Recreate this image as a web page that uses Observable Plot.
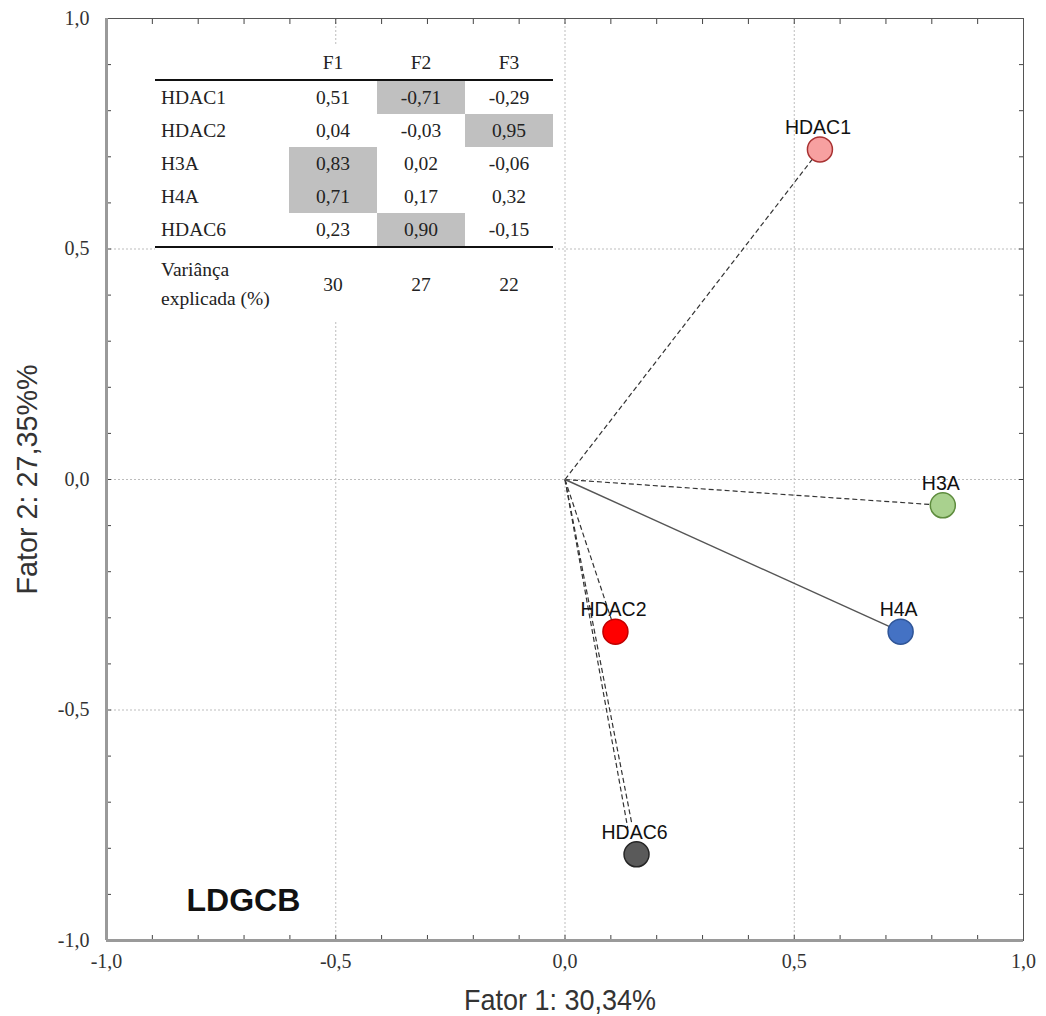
<!DOCTYPE html>
<html>
<head>
<meta charset="utf-8">
<script src="https://cdn.jsdelivr.net/npm/d3@7"></script>
<script src="https://cdn.jsdelivr.net/npm/@observablehq/plot@0.6"></script>
<style>
  html, body { margin: 0; padding: 0; background: white; }
  #wrap { position: relative; width: 1046px; height: 1016px; }
  #wrap svg { position: absolute; left: 0; top: 0; }
  #tbl { position: absolute; left: 155px; top: 46px; width: 400px; background: white; }
  #tbl table { border-collapse: collapse; font-family: "Liberation Serif", "Times New Roman", serif; font-size: 19.5px; color: #222; }
  #tbl td { padding: 0; text-align: center; vertical-align: middle; }
  #tbl td.lab { text-align: left; padding-left: 6px; width: 128px; }
  #tbl td.num { width: 88px; }
  #tbl td.hi { background: #c0c0c0; }
  #tbl tr.head td { height: 33px; border-bottom: 2px solid #111; }
  #tbl tr.row td { height: 33px; }
  #tbl tr.last td { border-bottom: 2px solid #111; }
  #tbl tr.var td { height: 72px; line-height: 29px; }
</style>
</head>
<body>
<div id="wrap"></div>
<script>
// ---- chart data ----
const variables = ["HDAC1", "HDAC2", "H3A", "H4A", "HDAC6"];
const factor1 = [0.556, 0.110, 0.824, 0.732, 0.156];
const factor2 = [0.716, -0.330, -0.056, -0.330, -0.813];

// vector lines from origin (where each drawn line ends)
const vectorVar = ["HDAC1", "H3A", "H4A", "HDAC2", "HDAC6", "HDAC6"];
const vectorX = [0.556, 0.824, 0.732, 0.110, 0.137, 0.146];
const vectorY = [0.716, -0.056, -0.330, -0.330, -0.757, -0.748];
const solidVectors = ["H4A"];

// axis ticks
const majorTicks = [-1, -0.5, 0, 0.5, 1];
const minorTicks = [-1, -0.9, -0.8, -0.7, -0.6, -0.5, -0.4, -0.3, -0.2, -0.1, 0, 0.1, 0.2, 0.3, 0.4, 0.5, 0.6, 0.7, 0.8, 0.9, 1];
const gridTicks = [-0.5, 0, 0.5];
const xTitle = "Fator 1: 30,34%";
const yTitle = "Fator 2: 27,35%%";
const panelLabel = "LDGCB";

// loadings table
const tableFactors = ["F1", "F2", "F3"];
const tableVars = ["HDAC1", "HDAC2", "H3A", "H4A", "HDAC6"];
const loadF1 = [0.51, 0.04, 0.83, 0.71, 0.23];
const loadF2 = [-0.71, -0.03, 0.02, 0.17, 0.90];
const loadF3 = [-0.29, 0.95, -0.06, 0.32, -0.15];
const varianceExplained = [30, 27, 22];
const varianceLabel = ["Variânça", "explicada (%)"];

// ---- build ----
const points = variables.map((v, i) => ({name: v, x: factor1[i], y: factor2[i]}));
const vectors = vectorVar.map((v, i) => ({name: v, x: vectorX[i], y: vectorY[i]}));

const fillColors = ["#F7A0A0", "#FF0000", "#A9D18E", "#4472C4", "#5A5A5A"];
const strokeColors = ["#A83232", "#C00000", "#5E8C3E", "#2F5597", "#262626"];
const fillOf = Object.fromEntries(variables.map((v, i) => [v, fillColors[i]]));
const strokeOf = Object.fromEntries(variables.map((v, i) => [v, strokeColors[i]]));
const fmt = d => d.toFixed(1).replace(".", ",");
const titleFont = "'Liberation Sans Narrow', 'Arial Narrow', 'Liberation Sans', sans-serif";

const chart = Plot.plot({
  width: 1046,
  height: 1016,
  marginLeft: 106,
  marginRight: 23,
  marginTop: 18,
  marginBottom: 76,
  x: {domain: [-1, 1]},
  y: {domain: [-1, 1]},
  style: {fontFamily: "'Liberation Serif', serif", fontSize: "20px", color: "#333", background: "white"},
  marks: [
    Plot.gridX(gridTicks, {stroke: "#bdbdbd", strokeOpacity: 1, strokeDasharray: "2,2"}),
    Plot.gridY(gridTicks, {stroke: "#bdbdbd", strokeOpacity: 1, strokeDasharray: "2,2"}),
    Plot.link(vectors.filter(d => !solidVectors.includes(d.name)), {
      x1: () => 0, y1: () => 0, x2: "x", y2: "y",
      stroke: "#333", strokeWidth: 1.2, strokeDasharray: "5,3"
    }),
    Plot.link(vectors.filter(d => solidVectors.includes(d.name)), {
      x1: () => 0, y1: () => 0, x2: "x", y2: "y",
      stroke: "#555", strokeWidth: 1.4
    }),
    Plot.dot(points, {
      x: "x", y: "y", r: 12.5,
      fill: d => fillOf[d.name], stroke: d => strokeOf[d.name], strokeWidth: 1.5
    }),
    Plot.text(points, {
      x: "x", y: "y", text: "name", dy: -22, dx: -2,
      lineAnchor: "middle", fontFamily: "'Liberation Sans', Arial, sans-serif",
      fontSize: 19.5, fill: "#111"
    }),
    // inward minor ticks on all sides
    Plot.axisX({anchor: "bottom", ticks: minorTicks, tickSize: -5, tickFormat: () => "", label: null, stroke: "#444"}),
    Plot.axisX({anchor: "top", ticks: minorTicks, tickSize: -5, tickFormat: () => "", label: null, stroke: "#444"}),
    Plot.axisY({anchor: "left", ticks: minorTicks, tickSize: -5, tickFormat: () => "", label: null, stroke: "#444"}),
    Plot.axisY({anchor: "right", ticks: minorTicks, tickSize: -5, tickFormat: () => "", label: null, stroke: "#444"}),
    // tick labels
    Plot.axisX({anchor: "bottom", ticks: majorTicks, tickSize: 0, tickPadding: 13, tickFormat: fmt, label: null, fill: "#333"}),
    Plot.axisY({anchor: "left", ticks: majorTicks, tickSize: 0, tickPadding: 17, tickFormat: fmt, label: null, fill: "#333"}),
    // frame
    Plot.frame({stroke: "#555", strokeWidth: 1}),
    Plot.ruleX([-1], {stroke: "#9a9a9a", strokeWidth: 3}),
    Plot.ruleY([-1], {stroke: "#9a9a9a", strokeWidth: 3}),
    // axis titles
    Plot.text([xTitle], {
      text: d => d, frameAnchor: "bottom", dx: -5, dy: 60, lineAnchor: "middle", textAnchor: "middle",
      fontFamily: titleFont, fontSize: 30, fill: "#333"
    }),
    Plot.text([yTitle], {
      text: d => d, frameAnchor: "left", dx: -79, rotate: -90, lineAnchor: "middle", textAnchor: "middle",
      fontFamily: titleFont, fontSize: 30, fill: "#333"
    }),
    // panel label
    Plot.text([panelLabel], {
      text: d => d, frameAnchor: "bottom-left", dx: 80, dy: -40, textAnchor: "start", lineAnchor: "middle",
      fontFamily: "'Liberation Sans', Arial, sans-serif", fontWeight: "bold", fontSize: 32, fill: "#111"
    })
  ]
});

// condense the axis titles (narrow face like the original)
d3.select(chart).selectAll("text").each(function () {
  if (this.textContent === xTitle) d3.select(this).attr("textLength", 192).attr("lengthAdjust", "spacingAndGlyphs");
  if (this.textContent === yTitle) d3.select(this).attr("textLength", 230).attr("lengthAdjust", "spacingAndGlyphs");
});

const wrap = document.getElementById("wrap");
wrap.appendChild(chart);

// loadings table overlay
const loads = [loadF1, loadF2, loadF3];
const num = d => d.toFixed(2).replace(".", ",");
let html = '<table><tr class="head"><td class="lab"></td>' +
  tableFactors.map(f => `<td class="num">${f}</td>`).join("") + "</tr>";
tableVars.forEach((v, i) => {
  const vals = loads.map(a => a[i]);
  const hi = d3.maxIndex(vals, Math.abs);
  html += `<tr class="row${i === tableVars.length - 1 ? " last" : ""}"><td class="lab">${v}</td>` +
    vals.map((d, j) => `<td class="num${j === hi ? " hi" : ""}">${num(d)}</td>`).join("") + "</tr>";
});
html += `<tr class="var"><td class="lab">${varianceLabel.join("<br>")}</td>` +
  varianceExplained.map(d => `<td class="num">${d}</td>`).join("") + "</tr></table>";
const tbl = document.createElement("div");
tbl.id = "tbl";
tbl.innerHTML = html;
wrap.appendChild(tbl);
</script>
</body>
</html>
